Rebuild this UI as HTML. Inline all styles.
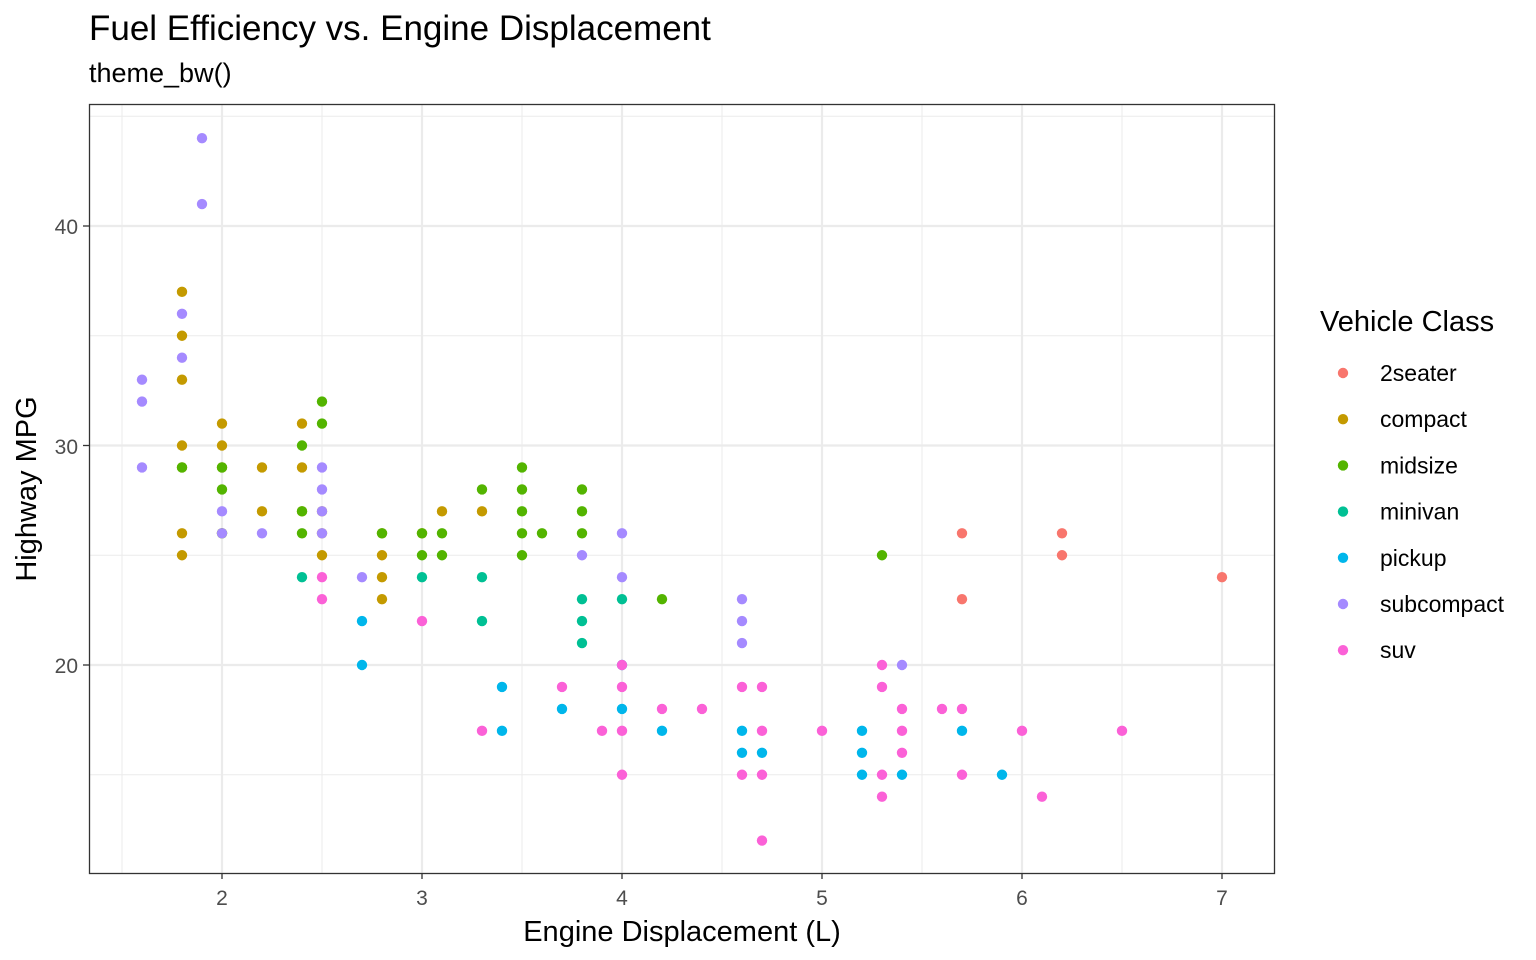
<!DOCTYPE html>
<html><head><meta charset="utf-8"><style>
html,body{margin:0;padding:0;background:#fff;}
svg{display:block;font-family:"Liberation Sans",Arial,sans-serif;}
</style></head><body>
<svg id="s" width="1536" height="960" xmlns="http://www.w3.org/2000/svg">
<defs><clipPath id="cp"><rect x="89" y="104" width="1186" height="770"/></clipPath></defs>
<rect width="1536" height="960" fill="#fff"/>
<g id="grid" clip-path="url(#cp)"></g>
<g id="pts"></g>
<rect x="89.5" y="104.5" width="1185" height="769" fill="none" stroke="#333" stroke-width="1.3"/>
<g id="ticks" stroke="#333" stroke-width="1.3"></g>
<g font-size="21" fill="#4d4d4d">
<text x="78" y="234" text-anchor="end">40</text>
<text x="78" y="454" text-anchor="end">30</text>
<text x="78" y="673" text-anchor="end">20</text>
<text x="222" y="905" text-anchor="middle">2</text>
<text x="422" y="905" text-anchor="middle">3</text>
<text x="622" y="905" text-anchor="middle">4</text>
<text x="822" y="905" text-anchor="middle">5</text>
<text x="1022" y="905" text-anchor="middle">6</text>
<text x="1222" y="905" text-anchor="middle">7</text>
</g>
<text x="682" y="941" font-size="29" text-anchor="middle" fill="#000">Engine Displacement (L)</text>
<text transform="translate(36,489) rotate(-90)" font-size="29" text-anchor="middle" fill="#000">Highway MPG</text>
<text x="89" y="40" font-size="35" fill="#000">Fuel Efficiency vs. Engine Displacement</text>
<text x="89" y="82" font-size="27" fill="#000">theme_bw()</text>
<text x="1320" y="331" font-size="29" fill="#000">Vehicle Class</text>
<g id="leg" font-size="23" fill="#000"></g>
</svg>
<script>
var NS="http://www.w3.org/2000/svg";
function el(p,t,a){var e=document.createElementNS(NS,t);for(var k in a)e.setAttribute(k,a[k]);p.appendChild(e);return e;}
function X(d){return 200*d-178;}function Y(h){return 665-(h-20)*21.95;}
var g=document.getElementById("grid");
[1.5,2.5,3.5,4.5,5.5,6.5].forEach(function(d){el(g,"line",{x1:X(d),x2:X(d),y1:104,y2:873,stroke:"#ebebeb","stroke-width":1});});
[15,25,35,45].forEach(function(h){el(g,"line",{x1:89,x2:1274,y1:Y(h),y2:Y(h),stroke:"#ebebeb","stroke-width":1});});
[2,3,4,5,6,7].forEach(function(d){el(g,"line",{x1:X(d),x2:X(d),y1:104,y2:873,stroke:"#ebebeb","stroke-width":2.2});});
[20,30,40].forEach(function(h){el(g,"line",{x1:89,x2:1274,y1:Y(h),y2:Y(h),stroke:"#ebebeb","stroke-width":2.2});});
var t=document.getElementById("ticks");
[2,3,4,5,6,7].forEach(function(d){el(t,"line",{x1:X(d),x2:X(d),y1:873,y2:879});});
[20,30,40].forEach(function(h){el(t,"line",{x1:83,x2:89,y1:Y(h),y2:Y(h)});});
var C={"2seater":"#F8766D",compact:"#C49A00",midsize:"#53B400",minivan:"#00C094",pickup:"#00B6EB",subcompact:"#A58AFF",suv:"#FB61D7"};
var D={
compact:[[1.8,37],[1.8,35],[1.8,33],[1.8,30],[1.8,29],[1.8,26],[1.8,25],[2,31],[2,30],[2,29],[2,26],[2.2,29],[2.2,27],[2.4,31],[2.4,29],[2.4,27],[2.5,27],[2.5,26],[2.5,25],[2.8,26],[2.8,25],[2.8,24],[2.8,23],[3,26],[3.1,27],[3.3,27]],
midsize:[[1.8,29],[2,29],[2,28],[2,26],[2.4,30],[2.4,27],[2.4,26],[2.5,32],[2.5,31],[2.8,26],[3,26],[3,25],[3.1,26],[3.1,25],[3.3,28],[3.5,29],[3.5,28],[3.5,27],[3.5,26],[3.5,25],[3.6,26],[3.8,28],[3.8,27],[3.8,26],[4.2,23],[5.3,25]],
minivan:[[2.4,24],[3,24],[3.3,24],[3.3,22],[3.8,23],[3.8,22],[3.8,21],[4,23]],
subcompact:[[1.6,33],[1.6,32],[1.6,29],[1.8,36],[1.8,34],[1.9,44],[1.9,41],[2,27],[2,26],[2.2,26],[2.5,29],[2.5,28],[2.5,27],[2.5,26],[2.7,24],[3.8,25],[4,26],[4,24],[4.6,23],[4.6,22],[4.6,21],[5.4,20]],
suv:[[2.5,24],[2.5,23],[3,22],[3.3,17],[3.7,19],[3.9,17],[4,20],[4,19],[4,17],[4,15],[4.2,18],[4.4,18],[4.6,19],[4.6,15],[4.7,19],[4.7,17],[4.7,15],[5,17],[5.3,20],[5.3,19],[5.3,15],[5.3,14],[5.4,18],[5.4,17],[5.4,16],[5.6,18],[5.7,18],[5.7,15],[6,17],[6.1,14],[6.5,17]],
pickup:[[2.7,22],[2.7,20],[3.4,19],[3.4,17],[3.7,18],[4,20],[4,18],[4.2,17],[4.6,17],[4.6,16],[4.7,16],[5.2,17],[5.2,16],[5.2,15],[5.4,15],[5.7,17],[5.9,15]],
"2seater":[[5.7,26],[5.7,23],[6.2,26],[6.2,25],[7,24]]};
var p=document.getElementById("pts");
["compact","midsize","minivan","subcompact","pickup","suv","2seater"].forEach(function(k){D[k].forEach(function(q){el(p,"circle",{cx:X(q[0]),cy:Y(q[1]),r:5.2,fill:C[k]});});});
el(p,"circle",{cx:X(4.7),cy:Y(12),r:5.2,fill:C.suv});
var L=document.getElementById("leg");
["2seater","compact","midsize","minivan","pickup","subcompact","suv"].forEach(function(k,i){var y=373+i*46.2;el(L,"circle",{cx:1343,cy:y,r:5.2,fill:C[k]});var tx=el(L,"text",{x:1380,y:y+8});tx.textContent=k;});
</script>
</body></html>
